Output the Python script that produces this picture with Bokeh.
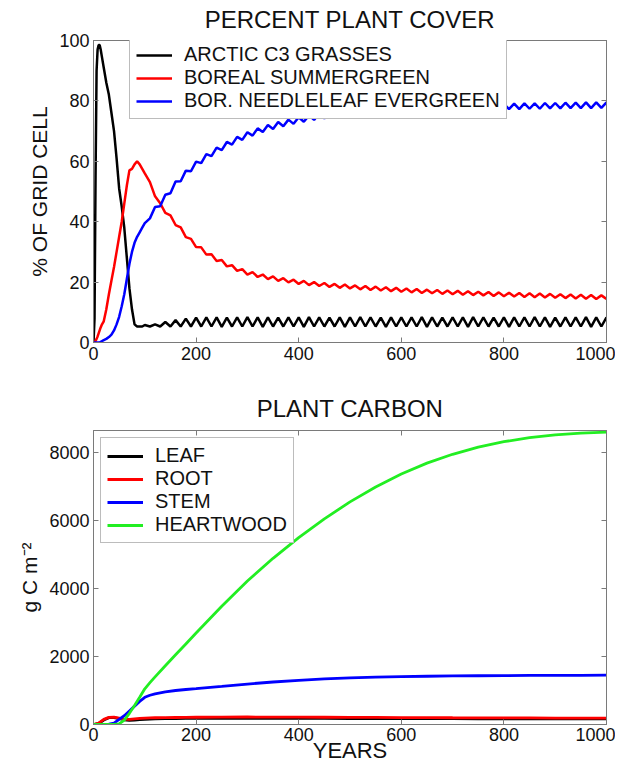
from bokeh.plotting import figure
from bokeh.models import (Range1d, FixedTicker, LinearAxis, Legend, LegendItem,
                          CustomLabelingPolicy)
from bokeh.layouts import column
from bokeh.embed import file_html
from bokeh.resources import INLINE

# ---------------- data: PERCENT PLANT COVER ----------------
YEARS_TOP = [0, 2, 4, 6, 8, 10, 12, 14, 16, 20, 25, 30, 35, 40, 45, 50, 55, 60, 65, 70,
             75, 80, 85, 90, 95, 100] + list(range(110, 1001, 10))

GRASS = [0, 8, 55, 90, 97, 98.5, 98.5, 97, 95, 91,
         86, 82, 76, 70, 61, 51, 45, 38, 28, 18,
         11, 6, 5.3, 5.3, 5.3, 5.8,
         5.3, 6.0, 5.3, 6.8, 5.3, 7.4, 5.3, 7.9, 5.3,
         8.2, 5.3, 8.3, 5.3, 8.3, 5.2, 8.2, 5.3, 8.3, 5.3, 8.4, 5.3, 8.3, 5.2, 8.3, 5.3, 8.2, 5.3, 8.3, 5.3,
         8.3, 5.2, 8.4, 5.3, 8.3, 5.3, 8.2, 5.3, 8.3, 5.2, 8.3, 5.3, 8.4, 5.3, 8.3, 5.3, 8.2, 5.2, 8.3, 5.3,
         8.3, 5.3, 8.3, 5.3, 8.4, 5.2, 8.3, 5.3, 8.2, 5.3, 8.3, 5.3, 8.3, 5.2, 8.4, 5.3, 8.3, 5.3, 8.2, 5.3,
         8.3, 5.2, 8.3, 5.3, 8.3, 5.3, 8.4, 5.3, 8.3, 5.2, 8.2, 5.3, 8.3, 5.3, 8.3, 5.3, 8.4, 5.2, 8.3, 5.3,
         8.3]

SUMMERGREEN = [0, 0, 0.5, 1.2, 2, 3, 4, 5, 5.8, 7,
               11, 16, 20.5, 25, 30, 35, 40, 46, 52, 57,
               57.5, 59, 60, 59, 57.5, 56,
               53.1, 48.4, 46.1, 42.9, 42.1, 38.9, 38.1, 34.9, 34.3, 31.6,
               31.5, 29.1, 29.2, 27.0, 27.3, 25.2, 25.6, 23.7, 24.3, 22.5,
               23.3, 21.7, 22.5, 21.0, 21.9, 20.4, 21.3, 19.9, 20.8, 19.4,
               20.4, 19.0, 20.0, 18.7, 19.7, 18.4, 19.4, 18.1, 19.2, 17.9,
               18.9, 17.6, 18.7, 17.4, 18.5, 17.2, 18.3, 17.0, 18.1, 16.8,
               17.9, 16.6, 17.7, 16.4, 17.5, 16.3, 17.4, 16.1, 17.2, 16.0,
               17.1, 15.8, 17.0, 15.7, 16.8, 15.6, 16.7, 15.4, 16.6, 15.3,
               16.5, 15.2, 16.4, 15.1, 16.3, 15.0, 16.2, 14.9, 16.1, 14.8,
               16.0, 14.7, 15.9, 14.6, 15.8, 14.5, 15.7, 14.4, 15.6, 14.4]

NEEDLELEAF = [0, 0, 0, 0, 0, 0, 0, 0.2, 0.4, 0.8,
              1.2, 1.8, 2.6, 4, 6, 8.5, 12, 16, 21, 26,
              30, 33, 35, 36.5, 38, 39.5,
              41.1, 44.9, 45.1, 48.9, 49.4, 53.3, 53.4, 56.9, 56.7, 59.9,
              59.4, 62.4, 61.7, 64.5, 63.7, 66.4, 65.5, 68.1, 67.1, 69.6,
              68.5, 70.9, 69.7, 72.0, 70.7, 73.0, 71.6, 73.8, 72.4, 74.6,
              73.1, 75.2, 73.7, 75.8, 74.2, 76.2, 74.6, 76.6, 75.0, 77.0,
              75.3, 77.2, 75.6, 77.5, 75.8, 77.7, 76.0, 77.9, 76.2, 78.1,
              76.4, 78.2, 76.5, 78.4, 76.6, 78.5, 76.7, 78.6, 76.8, 78.6,
              76.9, 78.7, 77.0, 78.8, 77.0, 78.9, 77.1, 79.0, 77.2, 79.0,
              77.3, 79.1, 77.3, 79.2, 77.4, 79.2, 77.4, 79.3, 77.5, 79.3,
              77.5, 79.4, 77.6, 79.4, 77.6, 79.5, 77.6, 79.5, 77.7, 79.5]

# ---------------- data: PLANT CARBON ----------------
YEARS_BOT = [0, 10, 20, 30, 40, 50, 60, 70, 80, 90, 100, 110, 120, 140, 160, 180, 200,
             250, 300, 350, 400, 450, 500, 550, 600, 650, 700, 750, 800, 850, 900, 950, 1000]
LEAF = [0, 30, 130, 200, 200, 175, 140, 120, 130, 145,
        155, 160, 165, 170, 175, 178, 180, 183, 185, 183,
        180, 178, 175, 173, 172, 171, 170, 169, 168, 167, 166, 165, 165]
ROOT = [0, 40, 150, 210, 215, 190, 160, 150, 165, 180,
        190, 195, 198, 202, 206, 210, 213, 218, 220, 219,
        216, 213, 210, 207, 204, 201, 198, 196, 194, 192, 190, 189, 188]
STEM = [0, 0, 0, 10, 40, 150, 260, 400, 540, 680,
        800, 860, 900, 960, 1000, 1030, 1055, 1120, 1190, 1250,
        1300, 1340, 1370, 1395, 1410, 1420, 1430, 1435, 1440, 1443, 1446, 1448, 1450]
HEARTWOOD = [0, 0, 0, 0, 0, 20, 130, 330, 560, 800,
             1050, 1230, 1400, 1730, 2050, 2370, 2690, 3480, 4220, 4890,
             5500, 6050, 6550, 6990, 7370, 7690, 7950, 8160, 8320, 8440, 8520, 8575, 8600]

X_TICKS = [0, 200, 400, 600, 800, 1000]
Y_TICKS_TOP = [0, 20, 40, 60, 80, 100]
Y_TICKS_BOT = [0, 2000, 4000, 6000, 8000]

FONT = "Liberation Sans"
AX = "#7a7a7a"
TXT = "#111111"
W = 615


def style_axis(ax, ticks, labels=True):
    ax.ticker = FixedTicker(ticks=ticks)
    ax.axis_line_color = AX
    ax.axis_line_width = 1
    ax.major_tick_line_color = AX
    ax.major_tick_in = 5
    ax.major_tick_out = 0
    ax.minor_tick_line_color = None
    ax.major_label_text_font = FONT
    ax.major_label_text_color = TXT
    ax.axis_label_text_font = FONT
    ax.axis_label_text_font_style = "normal"
    ax.axis_label_text_color = TXT
    if labels:
        ax.major_label_text_font_size = "18px"
        ax.major_label_standoff = 4
    else:
        ax.major_label_text_font_size = "1px"
        ax.major_label_standoff = 0
        ax.major_label_policy = CustomLabelingPolicy(code="return []")


def make_fig(h, top, bottom, yr, yticks, title, standoff):
    p = figure(width=W, height=h, x_range=Range1d(0, 1000), y_range=Range1d(*yr),
               output_backend="svg", toolbar_location=None,
               min_border_left=93, min_border_right=9,
               min_border_top=top, min_border_bottom=bottom)
    p.title.text = title
    p.title.align = "center"
    p.title.text_font = FONT
    p.title.text_font_size = "24px"
    p.title.text_font_style = "normal"
    p.title.text_color = TXT
    p.title.standoff = standoff
    p.xgrid.visible = False
    p.ygrid.visible = False
    p.outline_line_color = AX
    p.background_fill_color = "white"
    p.border_fill_color = "white"
    xb = p.below[0]
    yl = p.left[0]
    style_axis(xb, X_TICKS)
    style_axis(yl, yticks)
    ra = LinearAxis()
    style_axis(ra, yticks, labels=False)
    p.add_layout(ra, "right")
    ta = LinearAxis()
    style_axis(ta, X_TICKS, labels=False)
    p.add_layout(ta, "above")
    return p, xb, yl


def style_legend(leg):
    leg.label_text_font = FONT
    leg.label_text_font_size = "20px"
    leg.label_text_color = TXT
    leg.glyph_width = 36
    leg.glyph_height = 18
    leg.label_standoff = 12
    leg.padding = 6
    leg.spacing = -2
    leg.margin = 0
    leg.border_line_color = AX
    leg.border_line_width = 1
    leg.background_fill_color = "white"
    leg.background_fill_alpha = 1.0


# ---- top panel ----
p1, xb1, yl1 = make_fig(372, 40, 30, (0, 100), Y_TICKS_TOP, "PERCENT PLANT COVER", 7)
yl1.axis_label = "% OF GRID CELL"
yl1.axis_label_text_font_size = "21px"
r1 = p1.line(YEARS_TOP, GRASS, line_color="black", line_width=2.5)
r2 = p1.line(YEARS_TOP, SUMMERGREEN, line_color="#ff0000", line_width=2.5)
r3 = p1.line(YEARS_TOP, NEEDLELEAF, line_color="#0000ff", line_width=2.5)
leg1 = Legend(items=[LegendItem(label="ARCTIC C3 GRASSES", renderers=[r1]),
                     LegendItem(label="BOREAL SUMMERGREEN", renderers=[r2]),
                     LegendItem(label="BOR. NEEDLELEAF EVERGREEN", renderers=[r3])],
              location=(36, 223))
style_legend(leg1)
p1.add_layout(leg1)

# ---- bottom panel ----
p2, xb2, yl2 = make_fig(394, 58, 42, (0, 8650), Y_TICKS_BOT, "PLANT CARBON", 9)
yl2.axis_label = "g C m\u207b\u00b2"
yl2.axis_label_text_font_size = "21px"
xb2.axis_label = "YEARS"
xb2.axis_label_text_font_size = "22px"
xb2.axis_label_standoff = -6
xb2.major_label_standoff = 3
s1 = p2.line(YEARS_BOT, LEAF, line_color="black", line_width=2.8)
s2 = p2.line(YEARS_BOT, ROOT, line_color="#ff0000", line_width=2.8)
s3 = p2.line(YEARS_BOT, STEM, line_color="#0000ff", line_width=2.8)
s4 = p2.line(YEARS_BOT, HEARTWOOD, line_color="#22ee22", line_width=2.8)
leg2 = Legend(items=[LegendItem(label="LEAF", renderers=[s1]),
                     LegendItem(label="ROOT", renderers=[s2]),
                     LegendItem(label="STEM", renderers=[s3]),
                     LegendItem(label="HEARTWOOD", renderers=[s4])],
              location="top_left")
style_legend(leg2)
leg2.margin = 7
p2.add_layout(leg2)

layout = column(p1, p2, spacing=0)
open("out.html", "w").write(file_html(layout, INLINE))
